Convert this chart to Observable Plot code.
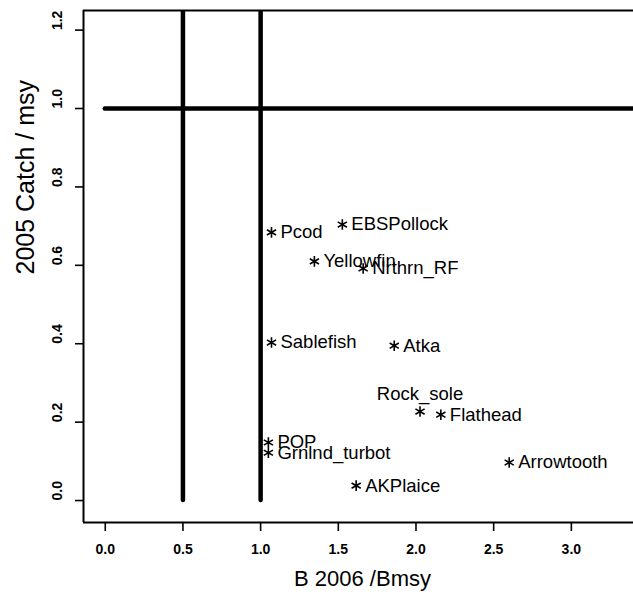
<!DOCTYPE html>
<html>
<head>
<meta charset="utf-8">
<script src="https://cdn.jsdelivr.net/npm/d3@7"></script>
<script src="https://cdn.jsdelivr.net/npm/@observablehq/plot@0.6"></script>
<style>
  html, body { margin: 0; padding: 0; background: #fff; }
  #chart { width: 633px; height: 597px; overflow: hidden; }
</style>
</head>
<body>
<div id="chart"></div>
<script>
// ---- data ----
const stocks = ["Pcod", "EBSPollock", "Yellowfin", "Nrthrn_RF", "Sablefish", "Atka",
                "Rock_sole", "Flathead", "POP", "Grnlnd_turbot", "Arrowtooth", "AKPlaice"];
const bRatio = [1.07, 1.526, 1.346, 1.66, 1.07, 1.86, 2.026, 2.16, 1.05, 1.05, 2.60, 1.615];
const catchRatio = [0.684, 0.704, 0.610, 0.592, 0.403, 0.395, 0.227, 0.219, 0.148, 0.122, 0.097, 0.038];
const refB = [0.5, 1.0];
const refCatch = [1.0];
const xTicks = [0, 0.5, 1, 1.5, 2, 2.5, 3];
const yTicks = [0, 0.2, 0.4, 0.6, 0.8, 1.0, 1.2];
const xTitle = "B 2006 /Bmsy";
const yTitle = "2005 Catch / msy";
const aboveLabels = ["Rock_sole"];

// ---- build table ----
const table = stocks.map((name, i) => ({name, b: bRatio[i], c: catchRatio[i]}));
const xDomain = [-0.14, 3.40];
const yDomain = [-0.056, 1.25];
const fmt = d3.format(".1f");
const font = "'Liberation Sans', Arial, Helvetica, sans-serif";

const chart = Plot.plot({
  width: 633,
  height: 597,
  marginLeft: 83,
  marginRight: 0,
  marginTop: 10,
  marginBottom: 75,
  style: {fontFamily: font, background: "#fff", color: "#000"},
  x: {domain: xDomain},
  y: {domain: yDomain},
  marks: [
    // box (left, top, bottom; right side is off the picture)
    Plot.ruleX([xDomain[0]], {stroke: "#000", strokeWidth: 2}),
    Plot.ruleY([yDomain[0], yDomain[1]], {stroke: "#000", strokeWidth: 2}),
    // reference lines
    Plot.ruleX(refB, {y1: 0, y2: yDomain[1], stroke: "#000", strokeWidth: 4.5, strokeLinecap: "round", clip: true}),
    Plot.ruleY(refCatch, {x1: 0, x2: xDomain[1], stroke: "#000", strokeWidth: 4.5, strokeLinecap: "round", clip: true}),
    // axes ticks
    Plot.axisX(xTicks, {tickSize: 9, tickFormat: () => "", label: null, stroke: "#000", strokeWidth: 1.6}),
    Plot.axisY(yTicks, {tickSize: 8, tickFormat: () => "", label: null, stroke: "#000", strokeWidth: 1.6}),
    // tick labels
    Plot.text(xTicks, {x: d => d, text: d => fmt(d), frameAnchor: "bottom", dy: 31,
      fontSize: 14, fontWeight: "bold", fill: "#000"}),
    Plot.text(yTicks, {y: d => d, text: d => fmt(d), frameAnchor: "left", dx: -26, rotate: -90,
      fontSize: 14, fontWeight: "bold", fill: "#000"}),
    // titles
    Plot.text([xTitle], {text: d => d, frameAnchor: "bottom", dx: 4, dy: 63, fontSize: 22, fill: "#000"}),
    Plot.text([yTitle], {text: d => d, frameAnchor: "left", dx: -58, dy: 8, rotate: -90, fontSize: 25, fill: "#000"}),
    // points
    Plot.dot(table, {x: "b", y: "c", symbol: "asterisk", r: 5, stroke: "#000", strokeWidth: 1.6}),
    // labels
    Plot.text(table.filter(d => !aboveLabels.includes(d.name)), {x: "b", y: "c", text: "name",
      textAnchor: "start", dx: 9, fontSize: 18.5, fill: "#000"}),
    Plot.text(table.filter(d => aboveLabels.includes(d.name)), {x: "b", y: "c", text: "name",
      textAnchor: "middle", dy: -17, fontSize: 18.5, fill: "#000"})
  ]
});
document.getElementById("chart").append(chart);
</script>
</body>
</html>
